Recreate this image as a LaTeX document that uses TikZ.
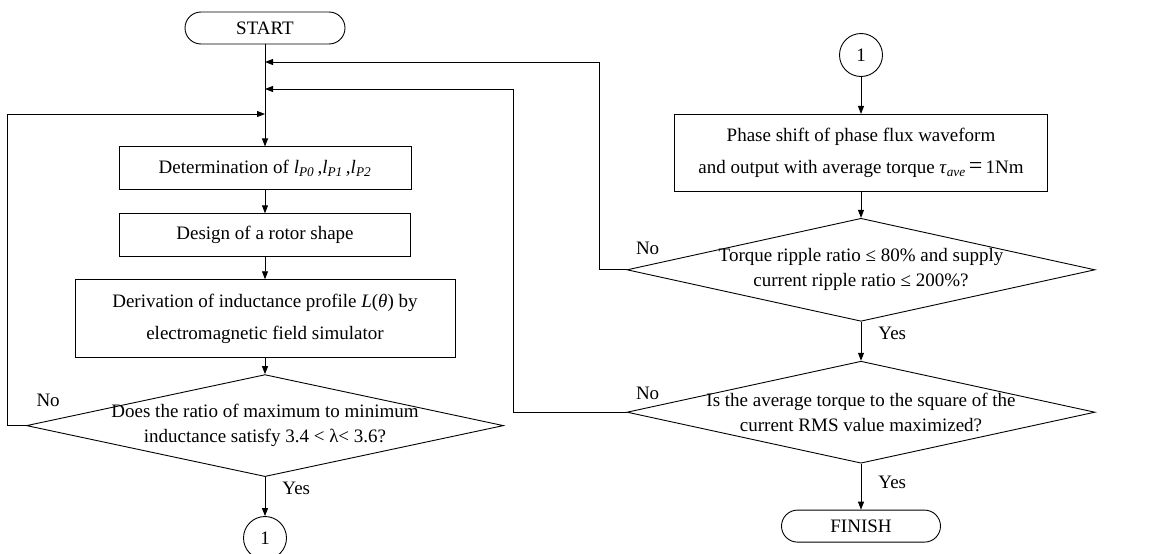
\documentclass[tikz,border=0pt]{standalone}
\usepackage{fontspec}
\setmainfont{Liberation Serif}
\usetikzlibrary{arrows.meta,positioning,shapes.geometric}

\begin{document}
\begin{tikzpicture}[x=1pt,y=1pt,>={Triangle[length=8pt,width=6pt]},line width=0.9pt,
  every node/.style={font=\fontsize{19}{25}\selectfont},
  term/.style={draw,rounded corners=16pt,minimum width=160pt,minimum height=32pt,inner sep=0pt},
  box/.style={draw,align=center,inner sep=0pt,minimum height=43pt},
  cond/.style={draw,diamond,aspect=4.6,align=center,inner sep=-5pt},
  conn/.style={draw,circle,minimum size=43pt,inner sep=0pt},
  lbl/.style={inner sep=0pt}]
  \useasboundingbox (0,0) rectangle (1157,-554);
  % left column
  \node[term] (start) at (265,-28) {START};
  \node[box,minimum width=292pt,below=102pt of start] (lp)
       {Determination of \textit{l}\textsubscript{\textit{P0}}\,,\textit{l}\textsubscript{\textit{P1}}\,,\textit{l}\textsubscript{\textit{P2}}};
  \node[box,minimum width=291pt,below=23pt of lp] (rotor) {Design of a rotor shape};
  \node[box,minimum width=380pt,minimum height=78pt,below=22pt of rotor,
        font=\fontsize{19}{32}\selectfont] (induct)
       {Derivation of inductance profile \textit{L}(\textit{θ}) by\\electromagnetic field simulator};
  \node[cond,minimum width=477pt,minimum height=102pt,below=16pt of induct] (ratio)
       {Does the ratio of maximum to minimum\\inductance satisfy 3.4 < λ< 3.6?};
  \node[conn,below=39pt of ratio] (c1) {1};
  % right column
  \node[conn] (c2) at (861,-55) {1};
  \node[box,minimum width=373pt,minimum height=77pt,below=37pt of c2,
        font=\fontsize{19}{32}\selectfont] (shift)
       {Phase shift of phase flux waveform\\and output with average torque \textit{τ}\textsubscript{\textit{ave}}\,{\fontsize{24}{25}\selectfont =}\,1Nm};
  \node[cond,minimum width=468pt,minimum height=103pt,below=26pt of shift] (ripple)
       {Torque ripple ratio ≤ 80\% and supply\\current ripple ratio ≤ 200\%?};
  \node[cond,minimum width=468pt,minimum height=102pt,below=39pt of ripple] (rms)
       {Is the average torque to the square of the\\current RMS value maximized?};
  \node[term,minimum width=159pt,below=46pt of rms] (finish) {FINISH};
  % junctions on the main line
  \coordinate (top1) at (265,-62);
  \coordinate (top2) at (265,-89);
  \coordinate (top3) at (265,-114);
  \draw[->] (start) -- (lp);
  \draw[->] (lp) -- (rotor);
  \draw[->] (rotor) -- (induct);
  \draw[->] (induct) -- (ratio);
  \draw[->] (ratio) -- node[lbl,pos=0.3,anchor=west,xshift=17pt] (yes1) {Yes} (c1);
  \draw[->] (c2) -- (shift);
  \draw[->] (shift) -- (ripple);
  \draw[->] (ripple) -- node[lbl,pos=0.3,anchor=west,xshift=17pt] (yes2) {Yes} (rms);
  \draw[->] (rms) -- node[lbl,pos=0.4,anchor=west,xshift=17pt] (yes3) {Yes} (finish);
  % feedback loops
  \draw[->] (ratio.west) -- ++(-19,0) |- (top3);
  \draw[->] (rms.west) -- ++(-113,0) |- (top2);
  \draw[->] (ripple.west) -- ++(-27,0) |- (top1);
  \node[lbl,above right=18pt and 10pt of ratio.west] (no1) {No};
  \node[lbl,above right=15pt and 9pt of ripple.west] (no2) {No};
  \node[lbl,above right=12pt and 9pt of rms.west] (no3) {No};
\end{tikzpicture}
\end{document}
